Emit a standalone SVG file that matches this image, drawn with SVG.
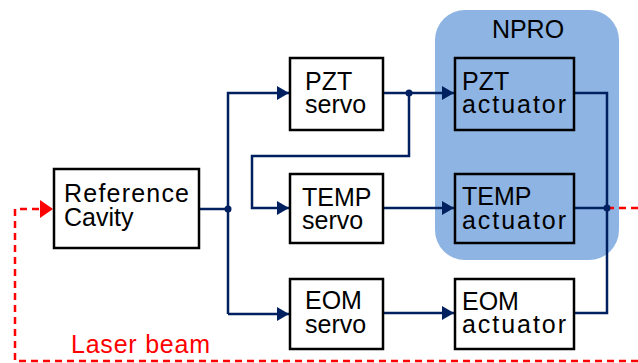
<svg xmlns="http://www.w3.org/2000/svg" width="638" height="363" viewBox="0 0 638 363">
<defs>
<style>
.box{fill:#fff;stroke:#000;stroke-width:2.5}
.abox{fill:#8EB4E3;stroke:#000;stroke-width:2.5}
.t{font-family:"Liberation Sans",Arial,sans-serif;font-size:25px;fill:#000}
.w{fill:none;stroke:#002060;stroke-width:2.5}
.red{fill:none;stroke:#FF0000;stroke-width:2.5;stroke-dasharray:7,5}
</style>
<marker id="ah" viewBox="0 0 12 14" refX="12" refY="7" markerWidth="12" markerHeight="14" orient="auto" markerUnits="userSpaceOnUse"><path d="M0,0 L12,7 L0,14 Z" fill="#002060"/></marker>
<marker id="rh" viewBox="0 0 13 18" refX="13" refY="9" markerWidth="13" markerHeight="18" orient="auto" markerUnits="userSpaceOnUse"><path d="M0,0 L13,9 L0,18 Z" fill="#FF0000"/></marker>
</defs>
<g id="npro">
<rect x="435" y="10" width="184" height="250" rx="30" fill="#8EB4E3"/>
<text class="t" x="528" y="38" text-anchor="middle">NPRO</text>
</g>
<g id="connectors">
<path class="red" d="M638,361 H15 V209 H53" marker-end="url(#rh)"/>
<path class="red" d="M607,208 H638"/>
<path class="w" d="M199,209 H228"/>
<path class="w" d="M228,314 V93 H289" marker-end="url(#ah)"/>
<path class="w" d="M228,314 H289" marker-end="url(#ah)"/>
<path class="w" d="M383,93 H454" marker-end="url(#ah)"/>
<path class="w" d="M409,93 V156 H252 V208 H289" marker-end="url(#ah)"/>
<path class="w" d="M383,208 H454" marker-end="url(#ah)"/>
<path class="w" d="M383,313 H454" marker-end="url(#ah)"/>
<path class="w" d="M574,93 H607 V313 H574"/>
<path class="w" d="M574,208 H607"/>
<circle cx="228" cy="209" r="3.5" fill="#002060"/>
<circle cx="409" cy="93" r="3.5" fill="#002060"/>
<circle cx="607" cy="208" r="3.5" fill="#002060"/>
</g>
<g id="refcav">
<rect class="box" x="54" y="169" width="145" height="79"/>
<text class="t" x="64" y="202" textLength="125">Reference</text>
<text class="t" x="64" y="226">Cavity</text>
</g>
<g id="pztservo">
<rect class="box" x="290" y="58" width="93" height="72"/>
<text class="t" x="305" y="90">PZT</text>
<text class="t" x="305" y="113">servo</text>
</g>
<g id="tempservo">
<rect class="box" x="290" y="174" width="93" height="69"/>
<text class="t" x="302" y="206">TEMP</text>
<text class="t" x="302" y="229">servo</text>
</g>
<g id="eomservo">
<rect class="box" x="290" y="279" width="93" height="70"/>
<text class="t" x="305" y="309">EOM</text>
<text class="t" x="305" y="333">servo</text>
</g>
<g id="pztact">
<rect class="abox" x="455" y="58" width="119" height="72"/>
<text class="t" x="462" y="90">PZT</text>
<text class="t" x="462" y="113" textLength="104">actuator</text>
</g>
<g id="tempact">
<rect class="abox" x="455" y="174" width="119" height="69"/>
<text class="t" x="462" y="205">TEMP</text>
<text class="t" x="462" y="229" textLength="104">actuator</text>
</g>
<g id="eomact">
<rect class="box" x="455" y="279" width="119" height="70"/>
<text class="t" x="462" y="310">EOM</text>
<text class="t" x="462" y="333" textLength="104">actuator</text>
</g>
<text id="laser" x="71" y="353" font-family="'Liberation Sans',Arial,sans-serif" font-size="25" fill="#FF0000" textLength="139">Laser beam</text>
</svg>
